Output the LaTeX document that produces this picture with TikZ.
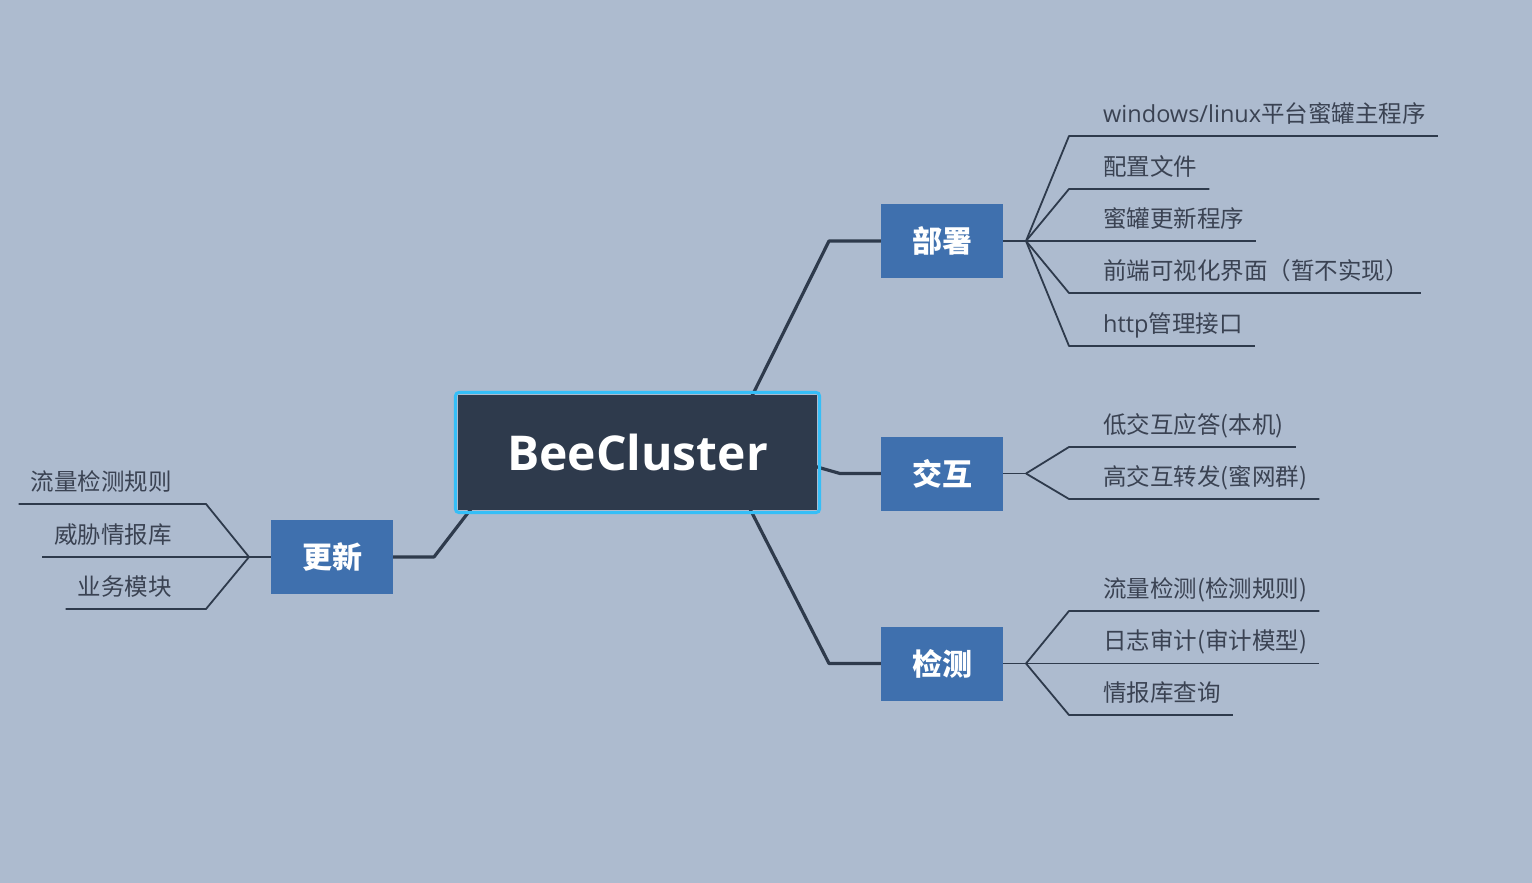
\documentclass[tikz,border=0pt]{standalone}
\usepackage{fontspec}
\setmainfont{Open Sans}
\newfontfamily\cjk{Noto Sans CJK SC}
\newfontfamily\osans{Open Sans}
\usetikzlibrary{fit,calc,backgrounds}
\definecolor{bg}{HTML}{ADBBCF}
\definecolor{rootfill}{HTML}{2E3A4C}
\definecolor{framec}{HTML}{35BEF7}
\definecolor{boxfill}{HTML}{3F70AE}
\definecolor{linec}{HTML}{2E3A4C}
\definecolor{leafc}{HTML}{3A4252}
\begin{document}
\begin{tikzpicture}[x=1pt,y=-1pt,
  branchbox/.style={fill=boxfill, minimum width=122pt, minimum height=74pt, inner sep=0pt, text=white, font=\cjk\bfseries\fontsize{30}{30}\selectfont},
  leaf/.style={inner sep=0pt, text=leafc, font=\cjk\fontsize{23.5}{24}\selectfont},
  mainline/.style={draw=linec, line width=3.2pt, line join=round},
  subline/.style={draw=linec, line width=1.8pt, line join=round},
]
\useasboundingbox (0,0) rectangle (1532,883);

% root
\node[fill=rootfill, minimum width=359pt, minimum height=115pt, inner sep=0pt, text=white,
      font=\osans\bfseries\fontsize{48}{48}\selectfont] (root) at (637.5,452.5) {BeeCluster};
\node[fit=(root), inner sep=2.5pt, draw=framec, line width=3pt, rounded corners=4pt] (frame) {};

% branches
\node[branchbox] (b1) at (942,241) {部署};
\node[branchbox] (b2) at (942,473.5) {交互};
\node[branchbox] (b3) at (942,663.5) {检测};
\node[branchbox] (b4) at (332,557) {更新};

% leaves of b1
\node[leaf, anchor=base west] (l11) at (1103,122) {{\osans windows/linux}平台蜜罐主程序};
\node[leaf, anchor=base west] (l12) at (1103,175) {配置文件};
\node[leaf, anchor=base west] (l13) at (1103,227) {蜜罐更新程序};
\node[leaf, anchor=base west] (l14) at (1103,279) {前端可视化界面（暂不实现）};
\node[leaf, anchor=base west] (l15) at (1103,332) {{\osans http}管理接口};
% leaves of b2
\node[leaf, anchor=base west] (l21) at (1103,433) {低交互应答(本机)};
\node[leaf, anchor=base west] (l22) at (1103,485) {高交互转发(蜜网群)};
% leaves of b3
\node[leaf, anchor=base west] (l31) at (1103,597) {流量检测(检测规则)};
\node[leaf, anchor=base west] (l32) at (1103,649) {日志审计(审计模型)};
\node[leaf, anchor=base west] (l33) at (1103,701) {情报库查询};
% leaves of b4
\node[leaf, anchor=base east] (l41) at (172,490) {流量检测规则};
\node[leaf, anchor=base east] (l42) at (172,543) {威胁情报库};
\node[leaf, anchor=base east] (l43) at (172,595) {业务模块};

\begin{scope}[on background layer]
\fill[bg] (0,0) rectangle (1532,883);
% main connectors
\coordinate (r1) at (749,402);
\coordinate (e1) at (829,241);
\coordinate (r2) at (812,465.5);
\coordinate (e2) at (840,473.5);
\coordinate (r3) at (748,505);
\coordinate (e3) at (829,663.5);
\coordinate (r4) at (474,505);
\coordinate (e4) at (434,557);
\draw[mainline] (r1) -- (e1) -- (b1.west);
\draw[mainline] (r2) -- (e2) -- (b2.west);
\draw[mainline] (r3) -- (e3) -- (b3.west);
\draw[mainline] (r4) -- (e4) -- (b4.east);

% forks
\coordinate (f1) at (1026,241);
\coordinate (f2) at (1026,473.5);
\coordinate (f3) at (1026,663.5);
\coordinate (f4) at (249,557);
\draw[subline] (b1.east) -- (f1);
\draw[subline] (b2.east) -- (f2);
\draw[subline] (b3.east) -- (f3);
\draw[subline] (b4.west) -- (f4);

% knees right
\coordinate (k11) at (1069,136);
\coordinate (k12) at (1069,189);
\coordinate (k13) at (1069,241);
\coordinate (k14) at (1069,293);
\coordinate (k15) at (1069,346);
\coordinate (k21) at (1069,447);
\coordinate (k22) at (1069,499);
\coordinate (k31) at (1069,611);
\coordinate (k32) at (1069,663.5);
\coordinate (k33) at (1069,715);
\foreach \f/\k/\l in {f1/k11/l11, f1/k12/l12, f1/k13/l13, f1/k14/l14, f1/k15/l15,
                      f2/k21/l21, f2/k22/l22, f3/k31/l31, f3/k32/l32, f3/k33/l33}{
  \draw[subline] (\f) -- (\k) -- ($(\l.east |- \k)+(12,0)$);
}
% knees left
\coordinate (k41) at (206,504);
\coordinate (k42) at (249,557);
\coordinate (k43) at (206,609);
\foreach \k/\l in {k41/l41, k42/l42, k43/l43}{
  \draw[subline] (f4) -- (\k) -- ($(\l.west |- \k)+(-12,0)$);
}
\end{scope}
\end{tikzpicture}
\end{document}
